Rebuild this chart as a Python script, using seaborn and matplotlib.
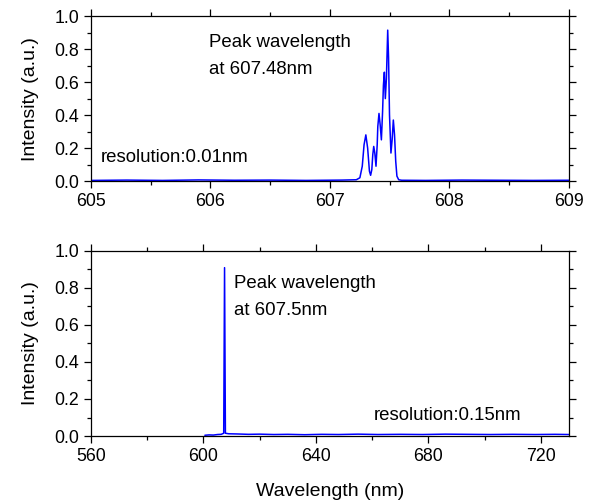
import matplotlib
matplotlib.use("Agg")
import matplotlib.pyplot as plt
from matplotlib.ticker import MultipleLocator
import seaborn as sns
import pandas as pd

# ---- data ----
top_wl = [605.0, 605.3, 605.6, 605.9, 606.2, 606.5, 606.8, 607.1, 607.22, 607.25,
          607.27, 607.285, 607.30, 607.315, 607.33, 607.34, 607.35, 607.358, 607.366,
          607.375, 607.385, 607.395, 607.40, 607.41, 607.42, 607.43, 607.44,
          607.447, 607.455, 607.463, 607.472, 607.483, 607.49, 607.498, 607.51,
          607.52, 607.53, 607.54, 607.55, 607.56, 607.575, 607.6, 607.8, 608.1,
          608.4, 608.7, 609.0]
top_int = [0.004, 0.006, 0.004, 0.007, 0.005, 0.006, 0.004, 0.006, 0.008, 0.02,
           0.09, 0.22, 0.28, 0.20, 0.06, 0.035, 0.07, 0.16, 0.21,
           0.17, 0.09, 0.22, 0.33, 0.41, 0.34, 0.25, 0.42,
           0.58, 0.66, 0.50, 0.62, 0.915, 0.75, 0.40, 0.17,
           0.25, 0.37, 0.28, 0.12, 0.03, 0.008, 0.005, 0.004, 0.006,
           0.005, 0.004, 0.005]

bot_wl = [600.5, 602.0, 603.5, 605.0, 606.3, 607.2, 607.5, 607.8, 609.0,
          612.0, 616.0, 620.0, 625.0, 630.0, 636.0, 642.0, 648.0, 655.0,
          662.0, 670.0, 678.0, 686.0, 694.0, 702.0, 710.0, 718.0, 725.0, 730.0]
bot_int = [0.004, 0.006, 0.005, 0.008, 0.009, 0.015, 0.91, 0.015, 0.012,
           0.011, 0.009, 0.010, 0.008, 0.009, 0.007, 0.009, 0.008, 0.010,
           0.008, 0.009, 0.008, 0.010, 0.009, 0.008, 0.009, 0.008, 0.009, 0.008]

top_xticks = [605, 606, 607, 608, 609]
bot_xticks = [560, 600, 640, 680, 720]
yticks = [0.0, 0.2, 0.4, 0.6, 0.8, 1.0]

sns.set_style("ticks")
plt.rcParams['font.family'] = ['Liberation Sans', 'DejaVu Sans']
plt.rcParams['text.color'] = 'black'
plt.rcParams['axes.labelcolor'] = 'black'
plt.rcParams['xtick.color'] = 'black'
plt.rcParams['ytick.color'] = 'black'

TS = 13.4   # annotation text
KS = 12.8   # tick labels
LS = 14     # axis labels

fig = plt.figure(figsize=(5.94, 5.03), dpi=100)
ax1 = fig.add_axes([0.1532, 0.640, 0.8047, 0.328])
ax2 = fig.add_axes([0.1532, 0.1332, 0.8047, 0.3678])

blue = "#0000FF"
sns.lineplot(data=pd.DataFrame({"wl": top_wl, "I": top_int}), x="wl", y="I",
             ax=ax1, color=blue, lw=1.1, estimator=None)
sns.lineplot(data=pd.DataFrame({"wl": bot_wl, "I": bot_int}), x="wl", y="I",
             ax=ax2, color=blue, lw=1.1, estimator=None)

for ax, xt, xlim, minor in [(ax1, top_xticks, (605, 609), 0.5),
                            (ax2, bot_xticks, (560, 730), 20)]:
    ax.set_xlim(*xlim)
    ax.set_ylim(0, 1.0)
    ax.set_xticks(xt)
    ax.set_yticks(yticks)
    ax.set_yticklabels([f"{v:.1f}" for v in yticks])
    ax.xaxis.set_minor_locator(MultipleLocator(minor))
    ax.yaxis.set_minor_locator(MultipleLocator(0.1))
    ax.tick_params(which='both', direction='out', top=True, right=True,
                   labeltop=False, labelright=False, labelsize=KS, width=0.9,
                   color='black', labelcolor='black', pad=3.5)
    ax.tick_params(which='major', length=5)
    ax.tick_params(which='minor', length=3)
    for s in ax.spines.values():
        s.set_visible(True)
        s.set_linewidth(0.9)
        s.set_color('black')
    ax.set_ylabel("Intensity (a.u.)", fontsize=LS, labelpad=11)
    ax.set_xlabel("")

ax2.set_xlabel("Wavelength (nm)", fontsize=LS, labelpad=13)

ax1.text(605.99, 0.89, "Peak wavelength\nat 607.48nm", fontsize=TS,
         va='top', ha='left', linespacing=1.75)
ax1.text(605.08, 0.14, "resolution:0.01nm", fontsize=TS, va='center', ha='left')
ax2.text(610.7, 0.87, "Peak wavelength\nat 607.5nm", fontsize=TS,
         va='top', ha='left', linespacing=1.8)
ax2.text(660.4, 0.112, "resolution:0.15nm", fontsize=TS, va='center', ha='left')

fig.savefig("out.png", dpi=100)
